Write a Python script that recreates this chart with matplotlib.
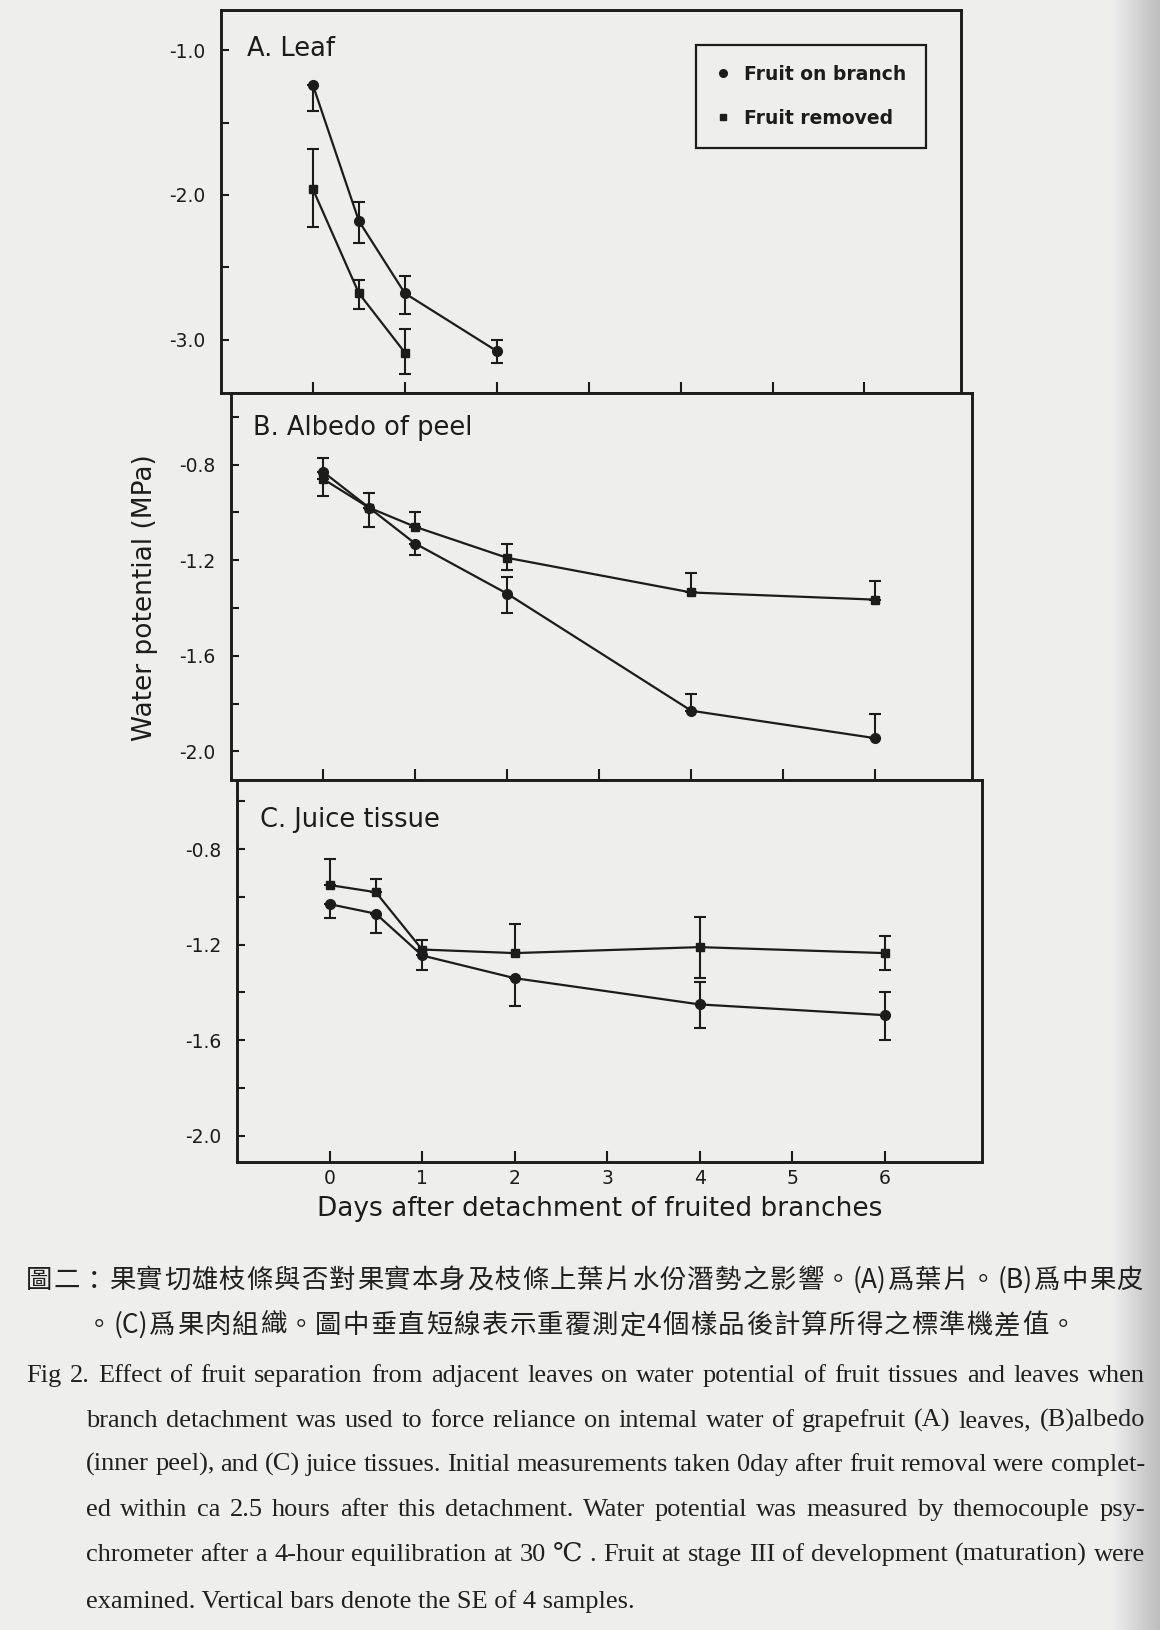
import re
import numpy as np
import matplotlib
matplotlib.use('Agg')
import matplotlib.pyplot as plt
from matplotlib.lines import Line2D
from matplotlib.ticker import FormatStrFormatter

# ---- data (water potential, MPa) ----
days = [0, 0.5, 1, 2, 4, 6]

# A. Leaf
leaf_on_x = [0, 0.5, 1, 2]
leaf_on = [-1.24, -2.18, -2.68, -3.08]
leaf_on_lo = [0.18, 0.15, 0.14, 0.08]
leaf_on_hi = [0.0, 0.13, 0.12, 0.08]
leaf_off_x = [0, 0.5, 1]
leaf_off = [-1.96, -2.68, -3.09]
leaf_off_lo = [0.26, 0.11, 0.15]
leaf_off_hi = [0.28, 0.09, 0.16]

# B. Albedo of peel
alb_on = [-0.83, -0.98, -1.13, -1.34, -1.83, -1.945]
alb_on_lo = [0.0, 0.08, 0.05, 0.08, 0.0, 0.0]
alb_on_hi = [0.06, 0.0, 0.0, 0.07, 0.07, 0.10]
alb_off = [-0.86, -0.98, -1.06, -1.19, -1.335, -1.365]
alb_off_lo = [0.07, 0.0, 0.0, 0.05, 0.0, 0.0]
alb_off_hi = [0.0, 0.06, 0.06, 0.06, 0.08, 0.08]

# C. Juice tissue
juice_on = [-1.03, -1.07, -1.245, -1.34, -1.45, -1.495]
juice_on_lo = [0.06, 0.08, 0.06, 0.115, 0.10, 0.105]
juice_on_hi = [0.0, 0.0, 0.0, 0.0, 0.095, 0.095]
juice_off = [-0.95, -0.98, -1.22, -1.235, -1.21, -1.235]
juice_off_lo = [0.0, 0.0, 0.0, 0.0, 0.13, 0.07]
juice_off_hi = [0.11, 0.055, 0.04, 0.12, 0.125, 0.07]

series_names = ['Fruit on branch', 'Fruit removed']
xticks = [0, 1, 2, 3, 4, 5, 6]

caption_zh = ['圖二：果實切雄枝條與否對果實本身及枝條上葉片水份潛勢之影響。(A)爲葉片。(B)爲中果皮',
              '。(C)爲果肉組織。圖中垂直短線表示重覆測定4個樣品後計算所得之標準機差值。']
caption_en = ['Fig 2. Effect of fruit separation from adjacent leaves on water potential of fruit tissues and leaves when',
              'branch detachment was used to force reliance on intemal water of grapefruit (A) leaves, (B)albedo',
              '(inner peel), and (C) juice tissues. Initial measurements taken 0day after fruit removal were complet-',
              'ed within ca 2.5 hours after this detachment. Water potential was measured by themocouple psy-',
              'chrometer after a 4-hour equilibration at 30 ℃ . Fruit at stage III of development (maturation) were',
              'examined. Vertical bars denote the SE of 4 samples.']

plt.rcParams['font.family'] = ['DejaVu Sans']
plt.rcParams['axes.unicode_minus'] = False

ink = '#1c1c1c'
bg = '#eeeeec'
W, H = 1160, 1630

fig = plt.figure(figsize=(W / 100, H / 100), dpi=100, facecolor=bg)


def px_axes(l, t, r, b):
    return fig.add_axes([l / W, 1 - b / H, (r - l) / W, (b - t) / H])


def style(ax, ylim, major, minor, xlabels=False):
    ax.set_facecolor(bg)
    ax.set_xlim(-1.0, 7.05)
    ax.set_ylim(ylim)
    ax.set_xticks(xticks)
    ax.set_yticks(major)
    ax.set_yticks(minor, minor=True)
    ax.yaxis.set_major_formatter(FormatStrFormatter('%.1f'))
    ax.tick_params(axis='both', which='both', direction='in', width=1.5, color=ink, labelcolor=ink)
    ax.tick_params(axis='x', length=8, pad=5, labelsize=13.5, labelbottom=xlabels)
    ax.tick_params(axis='y', which='both', length=6, pad=11, labelsize=13.5)
    for s in ax.spines.values():
        s.set_linewidth(2.1)
        s.set_color(ink)


def series(ax, x, y, lo, hi, marker, ms):
    ax.errorbar(x, y, yerr=[lo, hi], fmt='-', marker=marker, ms=ms, color=ink,
                lw=1.6, elinewidth=1.5, capsize=4, capthick=1.5)


ax_a = px_axes(221, 10, 961, 393)
ax_b = px_axes(231, 393, 972, 780)
ax_c = px_axes(237, 780, 982, 1162)

style(ax_a, (-3.37, -0.72), [-1.0, -2.0, -3.0], [-1.5, -2.5])
style(ax_b, (-2.12, -0.5), [-0.8, -1.2, -1.6, -2.0], [-0.6, -1.0, -1.4, -1.8])
style(ax_c, (-2.11, -0.51), [-0.8, -1.2, -1.6, -2.0], [-0.6, -1.0, -1.4, -1.8], xlabels=True)

series(ax_a, leaf_on_x, leaf_on, leaf_on_lo, leaf_on_hi, 'o', 7)
series(ax_a, leaf_off_x, leaf_off, leaf_off_lo, leaf_off_hi, 's', 5.5)
series(ax_b, days, alb_on, alb_on_lo, alb_on_hi, 'o', 7)
series(ax_b, days, alb_off, alb_off_lo, alb_off_hi, 's', 5.5)
series(ax_c, days, juice_on, juice_on_lo, juice_on_hi, 'o', 7)
series(ax_c, days, juice_off, juice_off_lo, juice_off_hi, 's', 5.5)

ax_a.text(0.035, 0.898, 'A. Leaf', transform=ax_a.transAxes, fontsize=18.5, color=ink, va='center')
ax_b.text(0.030, 0.910, 'B. Albedo of peel', transform=ax_b.transAxes, fontsize=18.5, color=ink, va='center')
ax_c.text(0.031, 0.895, 'C. Juice tissue', transform=ax_c.transAxes, fontsize=18.5, color=ink, va='center')

handles = [Line2D([], [], ls='none', marker='o', ms=5.5, color=ink),
           Line2D([], [], ls='none', marker='s', ms=4.5, color=ink)]
leg = ax_a.legend(handles, series_names, loc='upper left', bbox_to_anchor=(0.642, 0.909),
                  borderaxespad=0, fancybox=False, edgecolor=ink, facecolor=bg, framealpha=1,
                  prop=dict(size=13.5, weight='bold'), handlelength=0.8, handletextpad=0.7,
                  borderpad=1.05, labelspacing=1.35)
leg.get_frame().set_linewidth(1.6)
for t in leg.get_texts():
    t.set_color(ink)

fig.text(145 / W, 1 - 598 / H, 'Water potential (MPa)', rotation=90, ha='center', va='center',
         fontsize=19, color=ink)
fig.text(600 / W, 1 - 1209 / H, 'Days after detachment of fruited branches', ha='center', va='center',
         fontsize=19, color=ink)

# page edge shading at right
strip = fig.add_axes([1112 / W, 0, 48 / W, 1])
strip.imshow(np.linspace(0.93, 0.74, 48)[None, :], cmap='gray', vmin=0, vmax=1, aspect='auto')
strip.axis('off')

# caption, justified like the printed page
renderer = fig.canvas.get_renderer()


def justify(tokens, x0, x1, y, **kw):
    texts = [fig.text(0, 1 - y / H, t, ha='left', va='baseline', color='#202020', **kw) for t in tokens]
    widths = [t.get_window_extent(renderer).width for t in texts]
    gap = (x1 - x0 - sum(widths)) / (len(tokens) - 1)
    x = x0
    for t, w in zip(texts, widths):
        t.set_x(x / W)
        x += w + gap


# y values below are baselines in pixels from the top
zh_kw = dict(fontsize=19, family=['Noto Sans CJK TC', 'DejaVu Sans'])
justify(re.findall(r'\([A-C]\)|.', caption_zh[0]), 26, 1143, 1288, **zh_kw)
justify(re.findall(r'\([A-C]\)|.', caption_zh[1]), 86, 1076, 1333, **zh_kw)

en_kw = dict(fontsize=19, family=['Liberation Serif', 'DejaVu Serif'])
en_y = [1382, 1427, 1471, 1516, 1561, 1608]
for i, line in enumerate(caption_en[:-1]):
    justify(line.split(), 26 if i == 0 else 86, 1145, en_y[i], **en_kw)
fig.text(86 / W, 1 - en_y[-1] / H, caption_en[-1], ha='left', va='baseline', color='#202020', **en_kw)

fig.savefig('out.png', dpi=100, facecolor=bg)
